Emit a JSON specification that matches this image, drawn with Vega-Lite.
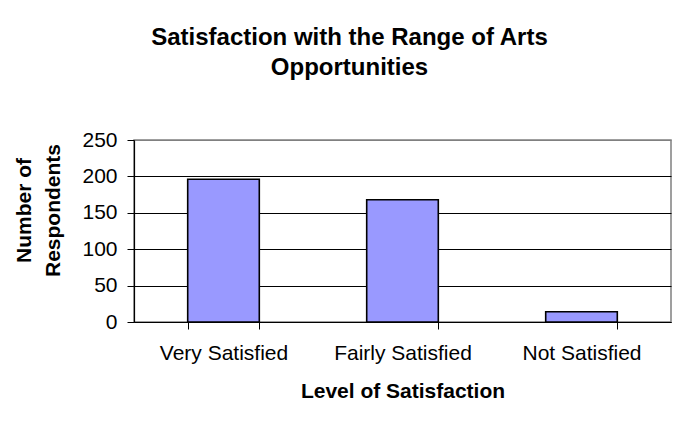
{
  "$schema": "https://vega.github.io/schema/vega-lite/v6.json",
  "autosize": {"type": "none"},
  "width": 537,
  "height": 182,
  "padding": {"left": 134, "top": 140, "right": 12, "bottom": 111},
  "background": "white",
  "title": {
    "text": ["Satisfaction with the Range of Arts", "Opportunities"],
    "font": "Liberation Sans",
    "fontSize": 24,
    "fontWeight": "bold",
    "color": "black",
    "lineHeight": 30,
    "anchor": "middle",
    "frame": "bounds",
    "offset": 49,
    "dx": 7
  },
  "data": {
    "values": [
      {"level": "Very Satisfied", "count": 196},
      {"level": "Fairly Satisfied", "count": 168},
      {"level": "Not Satisfied", "count": 14}
    ]
  },
  "mark": {"type": "bar", "fill": "#9999FF", "stroke": "black", "strokeWidth": 1.6},
  "encoding": {
    "x": {
      "field": "level",
      "type": "nominal",
      "sort": null,
      "scale": {"paddingInner": 0.6, "paddingOuter": 0.3},
      "axis": {
        "title": "Level of Satisfaction",
        "labelAngle": 0,
        "tickBand": "extent",
        "domainColor": "black",
        "domainWidth": 1.2,
        "tickColor": "black",
        "tickSize": 7,
        "tickWidth": 1,
        "labelFont": "Liberation Sans",
        "labelFontSize": 21,
        "labelColor": "black",
        "labelPadding": 13,
        "titleFont": "Liberation Sans",
        "titleFontSize": 21,
        "titleFontWeight": "bold",
        "titleColor": "black",
        "titlePadding": 17
      }
    },
    "y": {
      "field": "count",
      "type": "quantitative",
      "scale": {"domain": [0, 250], "nice": false},
      "axis": {
        "title": ["Number of", "Respondents"],
        "values": [0, 50, 100, 150, 200, 250],
        "domainColor": "black",
        "domainWidth": 1.2,
        "tickColor": "black",
        "tickSize": 7,
        "tickWidth": 1,
        "grid": true,
        "gridColor": {"condition": {"test": "datum.value === 250", "value": "#808080"}, "value": "black"},
        "gridWidth": 1,
        "labelFont": "Liberation Sans",
        "labelFontSize": 21,
        "labelColor": "black",
        "labelPadding": 10,
        "titleFont": "Liberation Sans",
        "titleFontSize": 21,
        "titleFontWeight": "bold",
        "titleColor": "black",
        "titleLineHeight": 29,
        "titlePadding": 18,
        "titleY": 70
      }
    }
  },
  "config": {"view": {"stroke": "#808080", "strokeWidth": 1.5}}
}
